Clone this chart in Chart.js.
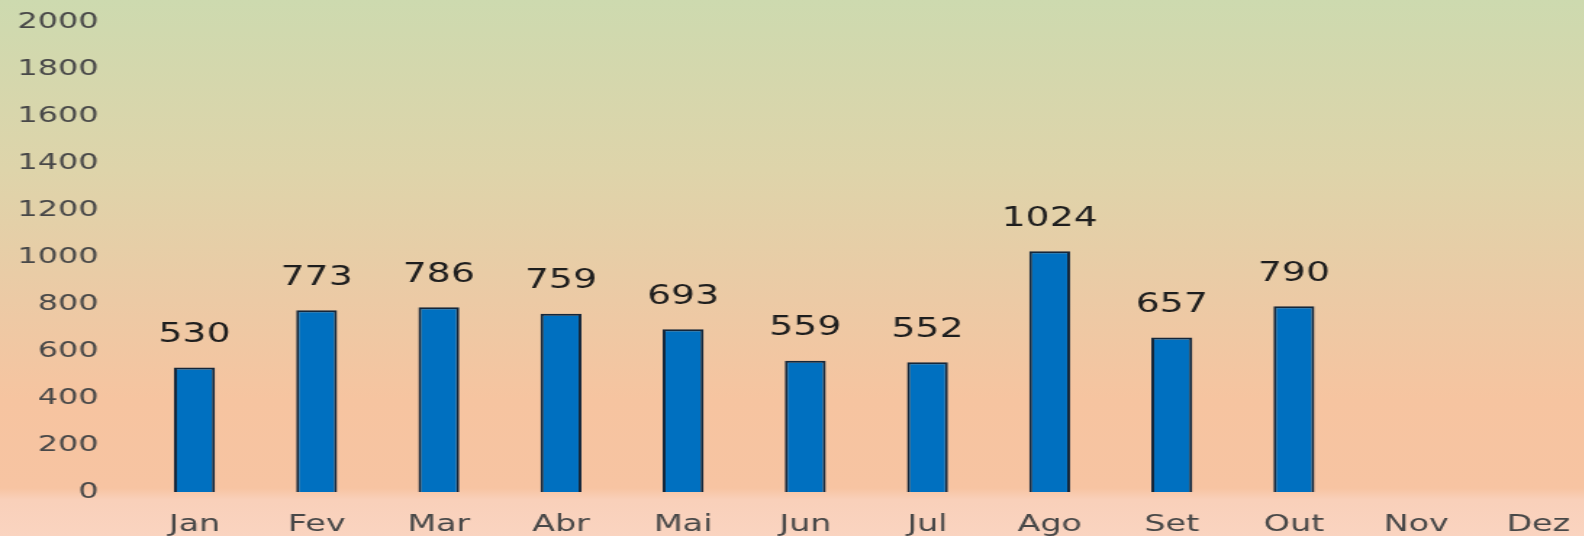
<!DOCTYPE html>
<html>
<head>
<meta charset="utf-8">
<script src="https://cdn.jsdelivr.net/npm/chart.js@4.4.1/dist/chart.umd.min.js"></script>
<style>
  html, body {
    margin: 0;
    padding: 0;
    width: 1584px;
    height: 536px;
    overflow: hidden;
    background: linear-gradient(to bottom,
      rgb(205,218,175) 0px,
      rgb(222,212,170) 170px,
      rgb(236,202,165) 300px,
      rgb(246,196,160) 400px,
      rgb(247,196,162) 488px,
      rgb(249,208,186) 500px,
      rgb(250,212,192) 536px);
  }
  /* the reference is stretched horizontally, so the chart is drawn narrow and scaled */
  #wrap {
    width: 1104px;
    height: 536px;
    transform: scaleX(1.45);
    transform-origin: 0 0;
  }
</style>
</head>
<body>
<div id="wrap"><canvas id="chart"></canvas></div>
<script>
const meses = ["Jan", "Fev", "Mar", "Abr", "Mai", "Jun", "Jul", "Ago", "Set", "Out", "Nov", "Dez"];
const valores = [530, 773, 786, 759, 693, 559, 552, 1024, 657, 790, null, null];
const yTicks = [0, 200, 400, 600, 800, 1000, 1200, 1400, 1600, 1800, 2000];

// numbers over each bar
const rotulos = {
    id: 'rotulos',
    afterDatasetsDraw(chart) {
        const ctx = chart.ctx;
        const meta = chart.getDatasetMeta(0);
        ctx.save();
        ctx.font = '26px "DejaVu Sans"';
        ctx.fillStyle = '#1e1e1e';
        ctx.textAlign = 'center';
        ctx.textBaseline = 'middle';
        meta.data.forEach((bar, i) => {
            if (valores[i] == null) return;
            ctx.fillText(String(valores[i]), bar.x, bar.y - 32);
        });
        ctx.restore();
    }
};

const ctx = document.getElementById('chart').getContext('2d');
new Chart(ctx, {
    type: 'bar',
    data: {
        labels: meses,
        datasets: [{
            data: valores,
            backgroundColor: '#0070c0',
            borderColor: '#14263a',
            borderWidth: 2,
            borderSkipped: 'bottom',
            categoryPercentage: 1,
            barPercentage: 0.335
        }]
    },
    options: {
        responsive: true,
        maintainAspectRatio: false,
        animation: false,
        layout: { padding: { top: 22, right: 1, left: 0, bottom: 0 } },
        plugins: {
            legend: { display: false },
            tooltip: { enabled: false }
        },
        scales: {
            x: {
                grid: { display: false, drawTicks: false },
                border: { display: false },
                ticks: {
                    color: '#484848',
                    font: { family: 'DejaVu Sans', size: 23 },
                    padding: 19,
                    maxRotation: 0,
                    autoSkip: false
                },
                afterFit(scale) { scale.height = 44; }
            },
            y: {
                min: 0,
                max: 2000,
                afterBuildTicks(scale) {
                    scale.ticks = yTicks.map(v => ({ value: v }));
                },
                grid: { display: false, drawTicks: false },
                border: { display: false },
                ticks: {
                    color: '#484848',
                    font: { family: 'DejaVu Sans', size: 22 },
                    padding: 24,
                    callback: v => String(v)
                },
                afterFit(scale) {
                    scale.width = 92;
                    // tick padding is meant for the gap to the bars only
                    scale.paddingTop = 0;
                    scale.paddingBottom = 0;
                }
            }
        }
    },
    plugins: [rotulos]
});
</script>
</body>
</html>
